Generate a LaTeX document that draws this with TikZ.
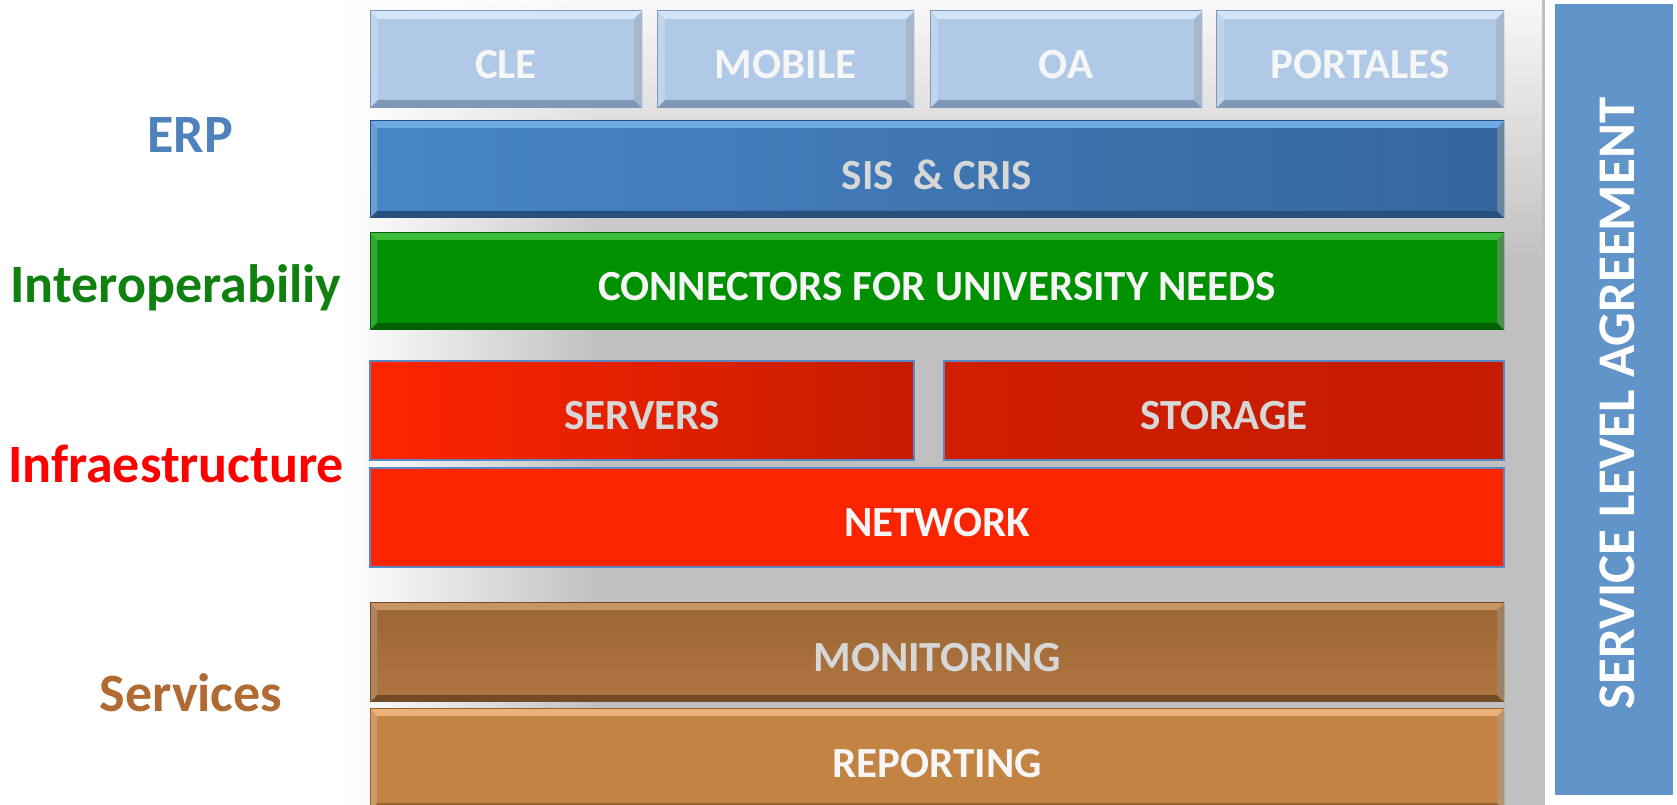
\documentclass[tikz,border=0pt]{standalone}
\usepackage{fontspec}
\setmainfont{Carlito}
\usetikzlibrary{fadings}
\definecolor{bggray}{RGB}{192,192,192}
\definecolor{lbmain}{RGB}{176,201,230}
\definecolor{lblight}{RGB}{212,229,247}
\definecolor{lbdark}{RGB}{128,152,182}
\definecolor{sisA}{RGB}{72,134,200}
\definecolor{sisB}{RGB}{52,102,156}
\definecolor{sislight}{RGB}{110,170,228}
\definecolor{sisdark}{RGB}{40,80,125}
\definecolor{grmain}{RGB}{0,145,0}
\definecolor{grlight}{RGB}{60,190,60}
\definecolor{grdark}{RGB}{0,95,0}
\definecolor{redA}{RGB}{255,36,0}
\definecolor{redB}{RGB}{196,28,0}
\definecolor{rednet}{RGB}{250,36,0}
\definecolor{rededge}{RGB}{90,135,195}
\definecolor{monA}{RGB}{154,102,52}
\definecolor{monB}{RGB}{176,118,66}
\definecolor{monlight}{RGB}{200,148,100}
\definecolor{mondark}{RGB}{115,75,38}
\definecolor{repmain}{RGB}{195,131,67}
\definecolor{replight}{RGB}{236,178,122}
\definecolor{repdark}{RGB}{150,100,50}
\definecolor{slablue}{RGB}{97,148,200}
\definecolor{erpblue}{RGB}{79,129,189}
\definecolor{intgreen}{RGB}{16,128,16}
\definecolor{infred}{RGB}{255,0,0}
\definecolor{servbrown}{RGB}{176,106,50}
\definecolor{txtgray}{RGB}{215,215,215}
\definecolor{txtwhite}{RGB}{246,246,246}
\tikzset{
  boxtext/.style={font=\bfseries\fontsize{43}{50}\selectfont, yshift=-5pt},
  labeltext/.style={font=\bfseries\fontsize{54}{62}\selectfont, anchor=base},
  plainbox/.style={rectangle, inner sep=0pt, outer sep=0pt},
  bevelbox/.style n args={4}{plainbox,
    path picture={
      \path (path picture bounding box.north west) coordinate (pNW)
            (path picture bounding box.north east) coordinate (pNE)
            (path picture bounding box.south west) coordinate (pSW)
            (path picture bounding box.south east) coordinate (pSE);
      \fill[#3] (pSW) -- (pSE) -- ([shift={(-#4,#4)}]pSE) -- ([shift={(#4,#4)}]pSW) -- cycle;
      \fill[#3!70!white] (pNE) -- (pSE) -- ([shift={(-#4,#4)}]pSE) -- ([shift={(-#4,-#4)}]pNE) -- cycle;
      \fill[#1!80!white] (pNW) -- (pSW) -- ([shift={(#4,#4)}]pSW) -- ([shift={(#4,-#4)}]pNW) -- cycle;
      \fill[#2] (pNW) -- (pNE) -- ([shift={(-#4,-#4)}]pNE) -- ([shift={(#4,-#4)}]pNW) -- cycle;
      \draw[#3, line width=1pt] (pNW) rectangle (pSE);
    }},
}
\begin{document}
\begin{tikzpicture}[x=1pt,y=1pt]
\useasboundingbox (0,0) rectangle (1677,805);
\fill[white] (0,0) rectangle (1677,805);
% background panel
\shade[left color=white, right color=bggray] (345,0) rectangle (600,805);
\fill[bggray] (599,0) rectangle (1545,805);
\fill[white, path fading=south, fill opacity=0.9] (345,540) rectangle (1545,805);
% top row
\node[bevelbox={lbmain}{lblight}{lbdark}{8pt}, fill=lbmain, minimum width=272, minimum height=97] (cle) at (506,745.5) {};
\node[boxtext, text=txtwhite] at (cle) {CLE};
\node[bevelbox={lbmain}{lblight}{lbdark}{8pt}, fill=lbmain, minimum width=257, minimum height=97] (mobile) at (785.5,745.5) {};
\node[boxtext, text=txtwhite] at (mobile) {MOBILE};
\node[bevelbox={lbmain}{lblight}{lbdark}{8pt}, fill=lbmain, minimum width=272, minimum height=97] (oa) at (1066,745.5) {};
\node[boxtext, text=txtwhite] at (oa) {OA};
\node[bevelbox={lbmain}{lblight}{lbdark}{8pt}, fill=lbmain, minimum width=288, minimum height=97] (portales) at (1360,745.5) {};
\node[boxtext, text=txtwhite] at (portales) {PORTALES};
% SIS
\node[bevelbox={sisA}{sislight}{sisdark}{7pt}, left color=sisA, right color=sisB, minimum width=1134, minimum height=97] (sis) at (937,635.5) {};
\node[boxtext, text=txtgray] at (sis) {SIS\ \ \& CRIS};
% connectors
\node[bevelbox={grmain}{grlight}{grdark}{7pt}, fill=grmain, minimum width=1134, minimum height=97] (conn) at (937,523.5) {};
\node[boxtext, text=txtwhite] at (conn) {CONNECTORS FOR UNIVERSITY NEEDS};
% infrastructure
\node[plainbox, draw=rededge, line width=1.5pt, left color=redA, right color=redB, minimum width=544, minimum height=99] (servers) at (642,394.5) {};
\node[boxtext, text=txtgray] at (servers) {SERVERS};
\node[plainbox, draw=rededge, line width=1.5pt, left color=redB!80!redA, right color=redB, minimum width=560, minimum height=99] (storage) at (1224,394.5) {};
\node[boxtext, text=txtgray] at (storage) {STORAGE};
\node[plainbox, draw=rededge, line width=1.5pt, fill=rednet, minimum width=1134, minimum height=99] (network) at (937,287.5) {};
\node[boxtext, text=txtwhite] at (network) {NETWORK};
% services
\node[bevelbox={monA}{monlight}{mondark}{7pt}, top color=monA, bottom color=monB, minimum width=1134, minimum height=99] (monitoring) at (937,152.5) {};
\node[boxtext, text=txtgray] at (monitoring) {MONITORING};
\node[bevelbox={repmain}{replight}{repdark}{7pt}, fill=repmain, minimum width=1134, minimum height=101] (reporting) at (937,45.5) {};
\node[boxtext, text=txtwhite, yshift=1pt] at (reporting) {REPORTING};
% SLA
\node[plainbox, fill=slablue, draw=white, line width=3pt, minimum width=121, minimum height=794] (sla) at (1613.5,405) {};
\node[font=\bfseries\fontsize{53}{62}\selectfont, text=white, rotate=90] at (1617,401.5) {SERVICE LEVEL AGREEMENT};
% left labels
\node[labeltext, text=erpblue] (erp) at (190,652) {ERP};
\node[labeltext, text=intgreen] (inter) at (176,502) {Interoperabiliy};
\node[labeltext, text=infred] (infra) at (176,322) {Infraestructure};
\node[labeltext, text=servbrown] (serv) at (191,93) {Services};
\end{tikzpicture}
\end{document}
